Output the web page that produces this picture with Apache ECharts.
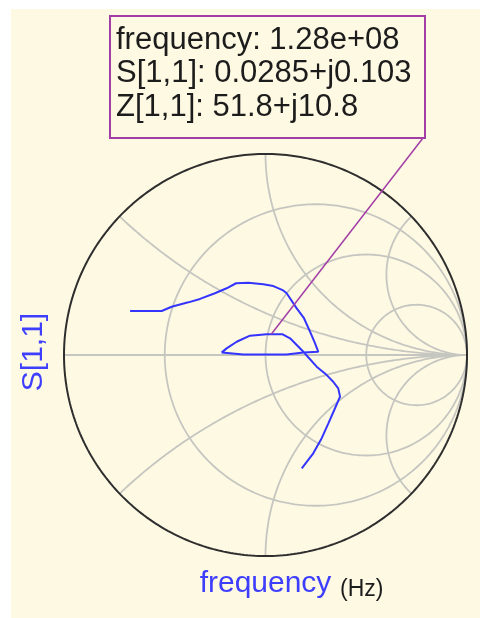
<!DOCTYPE html>
<html>
<head>
<meta charset="utf-8">
<script src="https://cdn.jsdelivr.net/npm/echarts/dist/echarts.min.js"></script>
<style>
  html, body { margin: 0; padding: 0; background: #ffffff; }
  #chart { width: 480px; height: 618px; }
</style>
</head>
<body>
<div id="chart"></div>
<script>
// S[1,1] frequency sweep: reflection coefficient, real and imaginary parts
const s11Re = [-0.672, -0.515, -0.466, -0.383, -0.325, -0.251, -0.193, -0.146, -0.085, -0.011,
               0.039, 0.085, 0.105, 0.155, 0.191, 0.221, 0.246, 0.262, 0.188, 0.105,
               0.006, -0.110, -0.217, -0.193, -0.143, -0.077, 0.006, 0.085, 0.122, 0.155,
               0.188, 0.212, 0.254, 0.304, 0.336, 0.361, 0.370, 0.345, 0.312, 0.279,
               0.237, 0.180];
const s11Im = [0.219, 0.219, 0.240, 0.262, 0.279, 0.307, 0.332, 0.357, 0.360, 0.352,
               0.343, 0.323, 0.307, 0.232, 0.183, 0.116, 0.058, 0.016, 0.013, 0.003,
               0.003, 0.003, 0.013, 0.033, 0.066, 0.096, 0.103, 0.103, 0.083, 0.050,
               0.016, -0.011, -0.058, -0.100, -0.133, -0.166, -0.207, -0.265, -0.340, -0.414,
               -0.489, -0.564];

// Marker readout
const markerFreq = '1.28e+08';
const markerS = [0.0285, 0.103];
const markerZ = [51.8, 10.8];

// Smith grid: normalised resistance circles and reactance arcs
const gridR = [1 / 3, 1, 3];
const gridX = [0.4, 1, 2.5, -0.4, -1, -2.5];

const BG = '#fef9e3';
const GRID_COLOR = '#c6c6c1';
const TRACE_COLOR = '#3434ff';
const MARKER_COLOR = '#a23ea6';
const LABEL_BLUE = '#3e3eff';
const FONT = '"Liberation Sans", Arial, sans-serif';

// readout box layout (pixels)
const BOX = { x: 110, y: 16, w: 315, h: 122 };

// constant-resistance circle
function rCircle(r) {
  const cx = r / (1 + r), rad = 1 / (1 + r), pts = [];
  for (let i = 0; i <= 360; i++) {
    const a = i * Math.PI / 180;
    pts.push([cx + rad * Math.cos(a), rad * Math.sin(a)]);
  }
  return pts;
}
// constant-reactance arc, swept over resistance 0..inf
function xArc(x) {
  const pts = [];
  for (let i = 0; i < 400; i++) {
    const r = Math.tan(i / 400 * Math.PI / 2);
    const d = (r + 1) * (r + 1) + x * x;
    pts.push([(r * r - 1 + x * x) / d, 2 * x / d]);
  }
  pts.push([1, 0]);
  return pts;
}
function unitCircle() {
  const pts = [];
  for (let i = 0; i <= 720; i++) {
    const a = i * Math.PI / 360;
    pts.push([Math.cos(a), Math.sin(a)]);
  }
  return pts;
}

function gridLine(data) {
  return {
    type: 'line', data: data, showSymbol: false, silent: true, clip: false,
    lineStyle: { color: GRID_COLOR, width: 1.8 }, z: 1
  };
}

const series = [];
gridR.forEach(r => series.push(gridLine(rCircle(r))));
gridX.forEach(x => series.push(gridLine(xArc(x))));
series.push(gridLine([[-1, 0], [1, 0]]));
series.push({
  type: 'line', data: unitCircle(), showSymbol: false, silent: true, clip: false,
  lineStyle: { color: '#2e2e2e', width: 2 }, z: 3
});
series.push({
  name: 'S[1,1]', type: 'line',
  data: s11Re.map((v, i) => [v, s11Im[i]]),
  showSymbol: false, clip: false,
  lineStyle: { color: TRACE_COLOR, width: 2 }, z: 4
});
// callout from the marker to the readout box corner
series.push({
  type: 'custom', clip: false, silent: true, z: 5,
  data: [markerS],
  renderItem: function (params, api) {
    const p = api.coord([api.value(0), api.value(1)]);
    return {
      type: 'line',
      shape: { x1: p[0], y1: p[1], x2: BOX.x + BOX.w - 2, y2: BOX.y + BOX.h },
      style: { stroke: MARKER_COLOR, lineWidth: 1.5 }
    };
  }
});

const readout = [
  'frequency: ' + markerFreq,
  'S[1,1]: ' + markerS[0] + '+j' + markerS[1],
  'Z[1,1]: ' + markerZ[0] + '+j' + markerZ[1]
];

const chart = echarts.init(document.getElementById('chart'), null, { renderer: 'canvas' });
chart.setOption({
  animation: false,
  backgroundColor: '#ffffff',
  grid: { left: 64, top: 154, width: 403, height: 402, containLabel: false, outerBoundsMode: 'none' },
  xAxis: { type: 'value', min: -1, max: 1, show: false },
  yAxis: { type: 'value', min: -1, max: 1, show: false },
  series: series,
  graphic: [
    { type: 'rect', z: -10, silent: true, shape: { x: 11, y: 9, width: 469, height: 609 }, style: { fill: BG } },
    {
      type: 'rect', z: 100, silent: true,
      shape: { x: BOX.x, y: BOX.y, width: BOX.w, height: BOX.h },
      style: { fill: BG, stroke: MARKER_COLOR, lineWidth: 2 }
    },
    ...readout.map((t, i) => ({
      type: 'text', z: 101, silent: true, x: BOX.x + 6, y: 40 + i * 33.5,
      style: { text: t, font: '31px ' + FONT, fill: '#1c1c1c', verticalAlign: 'middle', align: 'left' }
    })),
    {
      type: 'text', z: 101, silent: true, x: 265.5, y: 584,
      style: { text: 'frequency', font: '30px ' + FONT, fill: LABEL_BLUE, align: 'center', verticalAlign: 'middle' }
    },
    {
      type: 'text', z: 101, silent: true, x: 340, y: 590,
      style: { text: '(Hz)', font: '23px ' + FONT, fill: '#1c1c1c', align: 'left', verticalAlign: 'middle' }
    },
    {
      type: 'text', z: 101, silent: true, x: 34, y: 352, rotation: Math.PI / 2,
      style: { text: 'S[1,1]', font: '30px ' + FONT, fill: LABEL_BLUE, align: 'center', verticalAlign: 'middle' }
    }
  ]
});
</script>
</body>
</html>
